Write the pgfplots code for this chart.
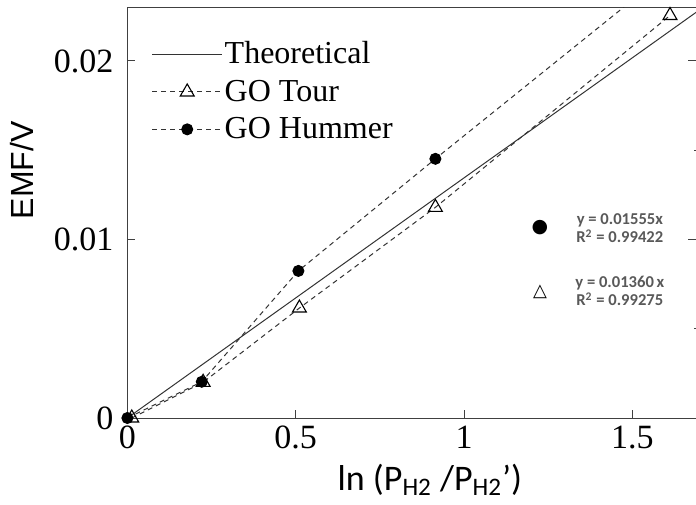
\documentclass[border=0pt]{standalone}
\usepackage{fontspec}
\setmainfont{Liberation Serif}
\newfontfamily\carlito{Carlito}
\newfontfamily\arialf{Liberation Sans}
\newfontfamily\dejavu{DejaVu Sans}
\usepackage{pgfplots}
\pgfplotsset{compat=1.18}
\definecolor{anngray}{HTML}{595959}
\definecolor{lncol}{HTML}{333333}
\begin{document}
\begin{tikzpicture}
\begin{axis}[
  scale only axis,
  width=284.8pt, height=205.5pt,
  xmin=0, xmax=1.6922, ymin=0, ymax=0.023025,
  clip mode=individual,
  axis line style={black!75, line width=0.5pt},
  tick style={black!75, line width=0.5pt},
  tick align=inside,
  major tick length=3.8pt,
  xtick={0,0.5,1,1.5}, xticklabels={0,0.5,1,1.5},
  ytick={0,0.01,0.02}, yticklabels={0,0.01,0.02},
  scaled ticks=false,
  xtick pos=bottom, ytick pos=left,
  ticklabel style={font=\fontsize{17}{18}\selectfont},
  yticklabel style={xshift=-3.5pt},
  xticklabel style={yshift=-0.5pt},
  xlabel={\carlito ln (P\textsubscript{H2} /P\textsubscript{H2}’)},
  xlabel style={at={(axis description cs:0.531,-0.151)}, anchor=center, font=\fontsize{18}{20}\selectfont},
  ylabel={\arialf EMF/V},
  ylabel style={at={(axis description cs:-0.185,0.603)}, anchor=center, rotate=0, font=\fontsize{16}{18}\selectfont},
  legend style={at={(axis description cs:0.042,0.922)}, anchor=north west, draw=none, fill=none,
    font=\fontsize{16}{18}\selectfont, inner sep=0pt, row sep=4.6pt,
    nodes={inner sep=1pt}},
  legend cell align=left,
  legend image code/.code={\draw[#1, mark indices={2}] plot coordinates {(0pt,0pt) (17.5pt,0pt) (35pt,0pt)};},
]
\addplot[lncol, line width=0.5pt, mark=none] coordinates {(0,0) (1.75,0.02354)};
\addlegendentry{Theoretical}
\addplot[lncol, line width=0.5pt, dash pattern=on 2.5pt off 2pt, mark=triangle, mark size=4pt,
  mark options={solid, fill=white, draw=black, line width=0.55pt}]
  coordinates {(0.013,0) (0.225,0.0020) (0.511,0.00616) (0.915,0.0118) (1.612,0.02255)};
\addlegendentry{GO Tour}
\addplot[lncol, line width=0.5pt, dash pattern=on 2.5pt off 2pt, mark=*, mark size=2.75pt,
  mark indices={1,2,3,4},
  mark options={solid, fill=black, draw=black}]
  coordinates {(0.0,0) (0.221,0.00203) (0.508,0.00824) (0.915,0.01452) (1.612,0.0251)};
\addlegendentry{GO Hummer}
\node[anchor=center, text=anngray, align=center, font=\carlito\bfseries\fontsize{8.3}{9.2}\selectfont]
  at (axis cs:1.463,0.01064) {y = 0.01555x\\R\textsuperscript{2} = 0.99422};
\node[anchor=center, text=anngray, align=center, font=\carlito\bfseries\fontsize{8.3}{9.2}\selectfont]
  at (axis cs:1.463,0.00712) {y = 0.01360\,x\\R\textsuperscript{2} = 0.99275};
\node[anchor=center, inner sep=0pt, font=\dejavu\fontsize{9.5}{10}\selectfont] at (axis cs:1.2256,0.01064) {●};
\node[anchor=center, inner sep=0pt, font=\dejavu\fontsize{9}{10}\selectfont] at (axis cs:1.2256,0.00706) {△};
\end{axis}
\begin{axis}[
  scale only axis,
  width=284.8pt, height=205.5pt,
  xmin=0, xmax=1.6922, ymin=0, ymax=0.023025,
  axis line style={draw=none},
  xtick=\empty,
  ytick={0,0.01,0.02}, yticklabels={},
  minor ytick={0.005,0.015},
  ytick pos=right,
  tick align=inside,
  major tick length=4.5pt, minor tick length=1.5pt,
  tick style={black!75, line width=0.5pt},
]
\end{axis}
\pgfresetboundingbox
\useasboundingbox (-63.7pt,-43pt) rectangle (284.3pt,209pt);
\end{tikzpicture}
\end{document}
